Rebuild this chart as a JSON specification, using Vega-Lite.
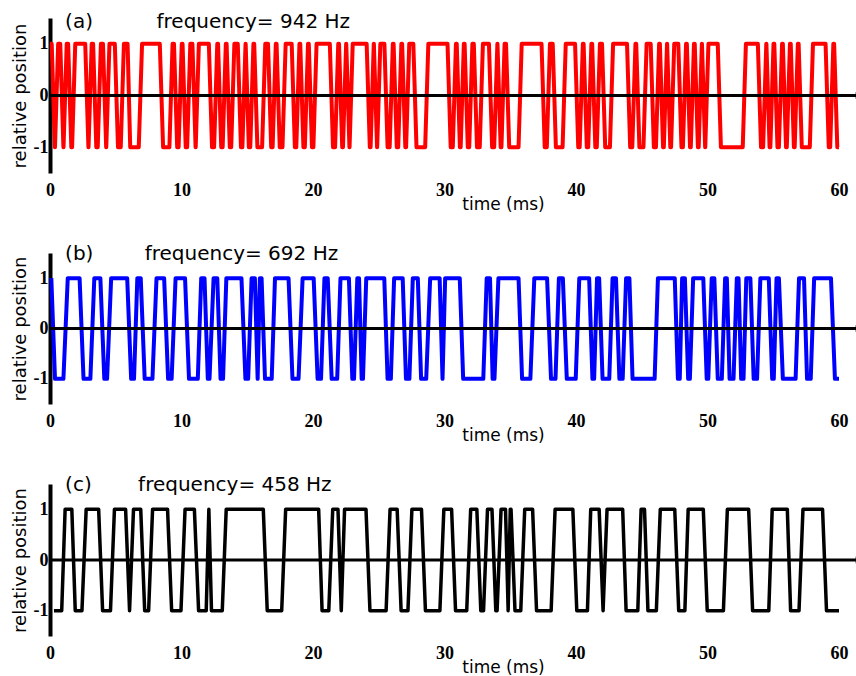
{
"$schema":"https://vega.github.io/schema/vega-lite/v6.json",
"padding":{"left":11,"top":12,"right":0,"bottom":0},
"background":"white",
"bounds":"flush",
"spacing":80,
"config":{
 "view":{"stroke":null},
 "axisX":{"grid":false,"domain":false,"ticks":false,"labelFont":"Liberation Serif","labelFontWeight":"bold","labelFontSize":18,"labelColor":"black","labelPadding":8,"labelFlush":false,"titleFont":"DejaVu Sans","titleFontSize":17,"titleFontWeight":"normal","titleColor":"black","titleX":453,"titleY":36,"titleAlign":"center","titleBaseline":"alphabetic"},
 "axisY":{"grid":false,"ticks":false,"domainColor":"black","domainWidth":4,"labelFont":"Liberation Serif","labelFontWeight":"bold","labelFontSize":18,"labelColor":"black","labelPadding":2,"titleFont":"DejaVu Sans","titleFontSize":18,"titleFontWeight":"normal","titleColor":"black","titlePadding":4,"labelExpr":"datum.value < 0 ? '-' + abs(datum.value) : datum.label"}
},
"datasets":{
"a":[{"t":0,"y":1},{"t":0.13,"y":1},{"t":0.37,"y":-1},{"t":0.38,"y":-1},{"t":0.62,"y":1},{"t":0.78,"y":1},{"t":1.02,"y":-1},{"t":1.03,"y":-1},{"t":1.27,"y":1},{"t":1.38,"y":1},{"t":1.62,"y":-1},{"t":1.68,"y":-1},{"t":1.92,"y":1},{"t":2.68,"y":1},{"t":2.92,"y":-1},{"t":2.93,"y":-1},{"t":3.17,"y":1},{"t":3.28,"y":1},{"t":3.52,"y":-1},{"t":3.63,"y":-1},{"t":3.87,"y":1},{"t":4.03,"y":1},{"t":4.27,"y":-1},{"t":4.28,"y":-1},{"t":4.52,"y":1},{"t":4.93,"y":1},{"t":5.17,"y":-1},{"t":5.38,"y":-1},{"t":5.62,"y":1},{"t":5.9,"y":1},{"t":6.1,"y":-1},{"t":6.75,"y":-1},{"t":7.0,"y":1},{"t":8.35,"y":1},{"t":8.6,"y":-1},{"t":9.08,"y":-1},{"t":9.32,"y":1},{"t":9.43,"y":1},{"t":9.67,"y":-1},{"t":9.78,"y":-1},{"t":10.02,"y":1},{"t":10.08,"y":1},{"t":10.32,"y":-1},{"t":10.43,"y":-1},{"t":10.67,"y":1},{"t":10.83,"y":1},{"t":11.07,"y":-1},{"t":11.08,"y":-1},{"t":11.32,"y":1},{"t":12.08,"y":1},{"t":12.32,"y":-1},{"t":12.48,"y":-1},{"t":12.72,"y":1},{"t":12.78,"y":1},{"t":13.02,"y":-1},{"t":13.13,"y":-1},{"t":13.37,"y":1},{"t":13.43,"y":1},{"t":13.67,"y":-1},{"t":13.78,"y":-1},{"t":14.02,"y":1},{"t":14.28,"y":1},{"t":14.52,"y":-1},{"t":14.63,"y":-1},{"t":14.87,"y":1},{"t":14.88,"y":1},{"t":15.12,"y":-1},{"t":15.23,"y":-1},{"t":15.47,"y":1},{"t":15.53,"y":1},{"t":15.77,"y":-1},{"t":16.13,"y":-1},{"t":16.37,"y":1},{"t":16.58,"y":1},{"t":16.82,"y":-1},{"t":16.93,"y":-1},{"t":17.17,"y":1},{"t":17.23,"y":1},{"t":17.47,"y":-1},{"t":17.68,"y":-1},{"t":17.92,"y":1},{"t":18.38,"y":1},{"t":18.62,"y":-1},{"t":18.73,"y":-1},{"t":18.97,"y":1},{"t":19.03,"y":1},{"t":19.27,"y":-1},{"t":19.38,"y":-1},{"t":19.62,"y":1},{"t":19.68,"y":1},{"t":19.92,"y":-1},{"t":20.03,"y":-1},{"t":20.27,"y":1},{"t":21.28,"y":1},{"t":21.52,"y":-1},{"t":21.68,"y":-1},{"t":21.92,"y":1},{"t":21.98,"y":1},{"t":22.22,"y":-1},{"t":22.28,"y":-1},{"t":22.52,"y":1},{"t":22.53,"y":1},{"t":22.77,"y":-1},{"t":22.78,"y":-1},{"t":23.02,"y":1},{"t":24.08,"y":1},{"t":24.32,"y":-1},{"t":24.38,"y":-1},{"t":24.62,"y":1},{"t":24.63,"y":1},{"t":24.87,"y":-1},{"t":24.88,"y":-1},{"t":25.12,"y":1},{"t":25.43,"y":1},{"t":25.67,"y":-1},{"t":25.83,"y":-1},{"t":26.07,"y":1},{"t":26.13,"y":1},{"t":26.37,"y":-1},{"t":26.48,"y":-1},{"t":26.72,"y":1},{"t":26.78,"y":1},{"t":27.02,"y":-1},{"t":27.08,"y":-1},{"t":27.32,"y":1},{"t":27.63,"y":1},{"t":27.87,"y":-1},{"t":28.53,"y":-1},{"t":28.77,"y":1},{"t":30.23,"y":1},{"t":30.47,"y":-1},{"t":30.63,"y":-1},{"t":30.87,"y":1},{"t":30.93,"y":1},{"t":31.17,"y":-1},{"t":31.23,"y":-1},{"t":31.47,"y":1},{"t":31.53,"y":1},{"t":31.77,"y":-1},{"t":31.88,"y":-1},{"t":32.12,"y":1},{"t":32.23,"y":1},{"t":32.47,"y":-1},{"t":32.68,"y":-1},{"t":32.92,"y":1},{"t":33.38,"y":1},{"t":33.62,"y":-1},{"t":33.78,"y":-1},{"t":34.02,"y":1},{"t":34.03,"y":1},{"t":34.27,"y":-1},{"t":34.33,"y":-1},{"t":34.57,"y":1},{"t":34.68,"y":1},{"t":34.92,"y":-1},{"t":35.63,"y":-1},{"t":35.87,"y":1},{"t":37.38,"y":1},{"t":37.62,"y":-1},{"t":37.78,"y":-1},{"t":38.02,"y":1},{"t":38.23,"y":1},{"t":38.47,"y":-1},{"t":38.98,"y":-1},{"t":39.22,"y":1},{"t":39.93,"y":1},{"t":40.17,"y":-1},{"t":40.28,"y":-1},{"t":40.52,"y":1},{"t":40.58,"y":1},{"t":40.82,"y":-1},{"t":40.93,"y":-1},{"t":41.17,"y":1},{"t":41.23,"y":1},{"t":41.47,"y":-1},{"t":41.58,"y":-1},{"t":41.82,"y":1},{"t":41.98,"y":1},{"t":42.22,"y":-1},{"t":42.58,"y":-1},{"t":42.82,"y":1},{"t":43.88,"y":1},{"t":44.12,"y":-1},{"t":44.28,"y":-1},{"t":44.52,"y":1},{"t":44.58,"y":1},{"t":44.82,"y":-1},{"t":45.13,"y":-1},{"t":45.37,"y":1},{"t":45.68,"y":1},{"t":45.92,"y":-1},{"t":46.08,"y":-1},{"t":46.32,"y":1},{"t":46.38,"y":1},{"t":46.62,"y":-1},{"t":46.68,"y":-1},{"t":46.92,"y":1},{"t":46.93,"y":1},{"t":47.17,"y":-1},{"t":47.23,"y":-1},{"t":47.47,"y":1},{"t":47.78,"y":1},{"t":48.02,"y":-1},{"t":48.13,"y":-1},{"t":48.37,"y":1},{"t":48.43,"y":1},{"t":48.67,"y":-1},{"t":48.73,"y":-1},{"t":48.97,"y":1},{"t":49.03,"y":1},{"t":49.27,"y":-1},{"t":49.33,"y":-1},{"t":49.57,"y":1},{"t":49.58,"y":1},{"t":49.82,"y":-1},{"t":49.83,"y":-1},{"t":50.07,"y":1},{"t":50.78,"y":1},{"t":51.02,"y":-1},{"t":52.68,"y":-1},{"t":52.92,"y":1},{"t":53.83,"y":1},{"t":54.07,"y":-1},{"t":54.23,"y":-1},{"t":54.47,"y":1},{"t":54.48,"y":1},{"t":54.72,"y":-1},{"t":54.78,"y":-1},{"t":55.02,"y":1},{"t":55.08,"y":1},{"t":55.32,"y":-1},{"t":55.43,"y":-1},{"t":55.67,"y":1},{"t":55.73,"y":1},{"t":55.97,"y":-1},{"t":56.03,"y":-1},{"t":56.27,"y":1},{"t":56.33,"y":1},{"t":56.57,"y":-1},{"t":56.63,"y":-1},{"t":56.87,"y":1},{"t":56.93,"y":1},{"t":57.17,"y":-1},{"t":57.78,"y":-1},{"t":58.02,"y":1},{"t":58.98,"y":1},{"t":59.22,"y":-1},{"t":59.33,"y":-1},{"t":59.57,"y":1},{"t":59.63,"y":1},{"t":59.87,"y":-1},{"t":60,"y":-1}],
"b":[{"t":0.1,"y":1},{"t":0.38,"y":-1},{"t":1.02,"y":-1},{"t":1.35,"y":1},{"t":2.25,"y":1},{"t":2.55,"y":-1},{"t":3.07,"y":-1},{"t":3.37,"y":1},{"t":3.83,"y":1},{"t":4.13,"y":-1},{"t":4.34,"y":-1},{"t":4.65,"y":1},{"t":5.87,"y":1},{"t":6.17,"y":-1},{"t":6.39,"y":-1},{"t":6.64,"y":1},{"t":6.9,"y":1},{"t":7.2,"y":-1},{"t":7.79,"y":-1},{"t":8.1,"y":1},{"t":8.68,"y":1},{"t":8.98,"y":-1},{"t":9.25,"y":-1},{"t":9.55,"y":1},{"t":10.27,"y":1},{"t":10.57,"y":-1},{"t":11.24,"y":-1},{"t":11.5,"y":1},{"t":11.75,"y":1},{"t":12.0,"y":-1},{"t":12.13,"y":-1},{"t":12.44,"y":1},{"t":12.72,"y":1},{"t":12.97,"y":-1},{"t":13.16,"y":-1},{"t":13.41,"y":1},{"t":14.56,"y":1},{"t":14.86,"y":-1},{"t":15.07,"y":-1},{"t":15.33,"y":1},{"t":15.58,"y":1},{"t":15.79,"y":-1},{"t":15.96,"y":1},{"t":16.09,"y":1},{"t":16.35,"y":-1},{"t":16.86,"y":-1},{"t":17.11,"y":1},{"t":18.14,"y":1},{"t":18.44,"y":-1},{"t":18.9,"y":-1},{"t":19.21,"y":1},{"t":20.05,"y":1},{"t":20.35,"y":-1},{"t":20.61,"y":-1},{"t":20.87,"y":1},{"t":21.12,"y":1},{"t":21.42,"y":-1},{"t":21.84,"y":-1},{"t":22.09,"y":1},{"t":22.73,"y":1},{"t":22.99,"y":-1},{"t":23.12,"y":-1},{"t":23.37,"y":1},{"t":23.5,"y":1},{"t":23.7,"y":-1},{"t":23.8,"y":-1},{"t":24.05,"y":1},{"t":25.42,"y":1},{"t":25.67,"y":-1},{"t":25.92,"y":-1},{"t":26.17,"y":1},{"t":26.82,"y":1},{"t":27.07,"y":-1},{"t":27.33,"y":-1},{"t":27.59,"y":1},{"t":27.97,"y":1},{"t":28.22,"y":-1},{"t":28.61,"y":-1},{"t":28.91,"y":1},{"t":29.63,"y":1},{"t":29.85,"y":-1},{"t":30.05,"y":1},{"t":31.16,"y":1},{"t":31.42,"y":-1},{"t":32.95,"y":-1},{"t":33.21,"y":1},{"t":33.46,"y":1},{"t":33.66,"y":-1},{"t":33.8,"y":-1},{"t":34.1,"y":1},{"t":35.63,"y":1},{"t":35.9,"y":-1},{"t":36.53,"y":-1},{"t":36.83,"y":1},{"t":37.8,"y":1},{"t":38.1,"y":-1},{"t":38.44,"y":-1},{"t":38.7,"y":1},{"t":39.0,"y":1},{"t":39.3,"y":-1},{"t":39.98,"y":-1},{"t":40.25,"y":1},{"t":41.0,"y":1},{"t":41.25,"y":-1},{"t":41.38,"y":-1},{"t":41.6,"y":1},{"t":41.76,"y":1},{"t":42.02,"y":-1},{"t":42.53,"y":-1},{"t":42.78,"y":1},{"t":43.04,"y":1},{"t":43.3,"y":-1},{"t":43.55,"y":-1},{"t":43.81,"y":1},{"t":44.06,"y":1},{"t":44.3,"y":-1},{"t":45.98,"y":-1},{"t":46.23,"y":1},{"t":47.51,"y":1},{"t":47.75,"y":-1},{"t":47.89,"y":-1},{"t":48.07,"y":1},{"t":48.28,"y":1},{"t":48.53,"y":-1},{"t":48.66,"y":-1},{"t":48.91,"y":1},{"t":49.68,"y":1},{"t":49.94,"y":-1},{"t":50.06,"y":-1},{"t":50.32,"y":1},{"t":50.52,"y":1},{"t":50.78,"y":-1},{"t":51.09,"y":-1},{"t":51.34,"y":1},{"t":51.47,"y":1},{"t":51.68,"y":-1},{"t":51.98,"y":-1},{"t":52.23,"y":1},{"t":52.36,"y":1},{"t":52.56,"y":-1},{"t":52.74,"y":-1},{"t":52.95,"y":1},{"t":53.26,"y":1},{"t":53.51,"y":-1},{"t":53.77,"y":-1},{"t":54.02,"y":1},{"t":54.66,"y":1},{"t":54.92,"y":-1},{"t":55.04,"y":-1},{"t":55.25,"y":1},{"t":55.43,"y":1},{"t":55.73,"y":-1},{"t":56.7,"y":-1},{"t":56.96,"y":1},{"t":57.34,"y":1},{"t":57.57,"y":-1},{"t":57.85,"y":-1},{"t":58.11,"y":1},{"t":59.39,"y":1},{"t":59.69,"y":-1},{"t":60.0,"y":-1}],
"c":[{"t":0.3,"y":-1},{"t":0.89,"y":-1},{"t":1.15,"y":1},{"t":1.66,"y":1},{"t":1.92,"y":-1},{"t":2.43,"y":-1},{"t":2.75,"y":1},{"t":3.7,"y":1},{"t":4.0,"y":-1},{"t":4.6,"y":-1},{"t":4.9,"y":1},{"t":5.75,"y":1},{"t":6.05,"y":-1},{"t":6.35,"y":1},{"t":6.9,"y":1},{"t":7.2,"y":-1},{"t":7.5,"y":-1},{"t":7.8,"y":1},{"t":8.94,"y":1},{"t":9.25,"y":-1},{"t":9.96,"y":-1},{"t":10.27,"y":1},{"t":10.98,"y":1},{"t":11.3,"y":-1},{"t":11.88,"y":-1},{"t":12.08,"y":1},{"t":12.28,"y":-1},{"t":13.1,"y":-1},{"t":13.4,"y":1},{"t":16.22,"y":1},{"t":16.52,"y":-1},{"t":17.62,"y":-1},{"t":17.92,"y":1},{"t":20.43,"y":1},{"t":20.69,"y":-1},{"t":21.2,"y":-1},{"t":21.5,"y":1},{"t":21.9,"y":1},{"t":22.15,"y":-1},{"t":22.4,"y":1},{"t":24.03,"y":1},{"t":24.33,"y":-1},{"t":25.56,"y":-1},{"t":25.86,"y":1},{"t":26.4,"y":1},{"t":26.7,"y":-1},{"t":27.22,"y":-1},{"t":27.52,"y":1},{"t":28.25,"y":1},{"t":28.55,"y":-1},{"t":29.65,"y":-1},{"t":29.95,"y":1},{"t":30.54,"y":1},{"t":30.84,"y":-1},{"t":31.69,"y":-1},{"t":31.99,"y":1},{"t":32.46,"y":1},{"t":32.76,"y":-1},{"t":32.97,"y":-1},{"t":33.27,"y":1},{"t":33.61,"y":1},{"t":33.9,"y":-1},{"t":34.0,"y":-1},{"t":34.3,"y":1},{"t":34.64,"y":1},{"t":34.84,"y":-1},{"t":35.0,"y":1},{"t":35.06,"y":1},{"t":35.36,"y":-1},{"t":35.8,"y":-1},{"t":36.1,"y":1},{"t":36.7,"y":1},{"t":37.0,"y":-1},{"t":38.11,"y":-1},{"t":38.41,"y":1},{"t":39.76,"y":1},{"t":40.06,"y":-1},{"t":40.87,"y":-1},{"t":41.12,"y":1},{"t":41.76,"y":1},{"t":42.06,"y":-1},{"t":42.36,"y":1},{"t":43.55,"y":1},{"t":43.81,"y":-1},{"t":44.7,"y":-1},{"t":44.95,"y":1},{"t":45.21,"y":1},{"t":45.47,"y":-1},{"t":46.11,"y":-1},{"t":46.41,"y":1},{"t":47.51,"y":1},{"t":47.81,"y":-1},{"t":48.28,"y":-1},{"t":48.53,"y":1},{"t":49.68,"y":1},{"t":49.98,"y":-1},{"t":51.21,"y":-1},{"t":51.51,"y":1},{"t":53.13,"y":1},{"t":53.43,"y":-1},{"t":54.66,"y":-1},{"t":54.92,"y":1},{"t":56.07,"y":1},{"t":56.32,"y":-1},{"t":56.96,"y":-1},{"t":57.26,"y":1},{"t":58.75,"y":1},{"t":59.05,"y":-1},{"t":60,"y":-1}]
},
"vconcat":[
{"width":789,"height":155,"layer":[
 {"data":{"name":"a"},"mark":{"type":"line","color":"#ff0000","strokeWidth":4,"strokeJoin":"round"},"encoding":{"x":{"field":"t","type":"quantitative","scale":{"domain":[0,60],"nice":false,"zero":false},"axis":{"values":[0,10,20,30,40,50,60],"title":"time (ms)"}},"y":{"field":"y","type":"quantitative","scale":{"domain":[-1.5,1.5],"nice":false},"axis":{"values":[-1,0,1],"title":"relative position"}}}},
 {"data":{"values":[{}]},"mark":{"type":"rule","color":"black","strokeWidth":3},"encoding":{"x":{"datum":0},"x2":{"datum":61.5},"y":{"datum":0}}},
 {"data":{"values":[{}]},"mark":{"type":"point","shape":"triangle-right","filled":true,"color":"black","opacity":1,"size":50},"encoding":{"x":{"datum":61.5},"y":{"datum":0}}},
 {"data":{"values":[{}]},"mark":{"type":"text","align":"left","baseline":"middle","font":"DejaVu Sans","fontSize":20,"color":"black"},"encoding":{"x":{"datum":1.15},"y":{"datum":1.42},"text":{"value":"(a)"}}},
 {"data":{"values":[{}]},"mark":{"type":"text","align":"left","baseline":"middle","font":"DejaVu Sans","fontSize":20,"color":"black"},"encoding":{"x":{"datum":8.1},"y":{"datum":1.42},"text":{"value":"frequency= 942 Hz"}}}
]},
{"width":789,"height":151,"layer":[
 {"data":{"name":"b"},"mark":{"type":"line","color":"#0000ff","strokeWidth":4,"strokeJoin":"round"},"encoding":{"x":{"field":"t","type":"quantitative","scale":{"domain":[0,60],"nice":false,"zero":false},"axis":{"values":[0,10,20,30,40,50,60],"title":"time (ms)"}},"y":{"field":"y","type":"quantitative","scale":{"domain":[-1.5,1.5],"nice":false},"axis":{"values":[-1,0,1],"title":"relative position"}}}},
 {"data":{"values":[{}]},"mark":{"type":"rule","color":"black","strokeWidth":3},"encoding":{"x":{"datum":0},"x2":{"datum":61.5},"y":{"datum":0}}},
 {"data":{"values":[{}]},"mark":{"type":"point","shape":"triangle-right","filled":true,"color":"black","opacity":1,"size":50},"encoding":{"x":{"datum":61.5},"y":{"datum":0}}},
 {"data":{"values":[{}]},"mark":{"type":"text","align":"left","baseline":"middle","font":"DejaVu Sans","fontSize":20,"color":"black"},"encoding":{"x":{"datum":1.15},"y":{"datum":1.48},"text":{"value":"(b)"}}},
 {"data":{"values":[{}]},"mark":{"type":"text","align":"left","baseline":"middle","font":"DejaVu Sans","fontSize":20,"color":"black"},"encoding":{"x":{"datum":7.2},"y":{"datum":1.48},"text":{"value":"frequency= 692 Hz"}}}
]},
{"width":789,"height":152,"layer":[
 {"data":{"name":"c"},"mark":{"type":"line","color":"#000000","strokeWidth":3.5,"strokeJoin":"round"},"encoding":{"x":{"field":"t","type":"quantitative","scale":{"domain":[0,60],"nice":false,"zero":false},"axis":{"values":[0,10,20,30,40,50,60],"title":"time (ms)"}},"y":{"field":"y","type":"quantitative","scale":{"domain":[-1.5,1.5],"nice":false},"axis":{"values":[-1,0,1],"title":"relative position"}}}},
 {"data":{"values":[{}]},"mark":{"type":"rule","color":"black","strokeWidth":3},"encoding":{"x":{"datum":0},"x2":{"datum":61.5},"y":{"datum":0}}},
 {"data":{"values":[{}]},"mark":{"type":"point","shape":"triangle-right","filled":true,"color":"black","opacity":1,"size":50},"encoding":{"x":{"datum":61.5},"y":{"datum":0}}},
 {"data":{"values":[{}]},"mark":{"type":"text","align":"left","baseline":"middle","font":"DejaVu Sans","fontSize":20,"color":"black"},"encoding":{"x":{"datum":1.15},"y":{"datum":1.48},"text":{"value":"(c)"}}},
 {"data":{"values":[{}]},"mark":{"type":"text","align":"left","baseline":"middle","font":"DejaVu Sans","fontSize":20,"color":"black"},"encoding":{"x":{"datum":6.7},"y":{"datum":1.48},"text":{"value":"frequency= 458 Hz"}}}
]}
]
}
